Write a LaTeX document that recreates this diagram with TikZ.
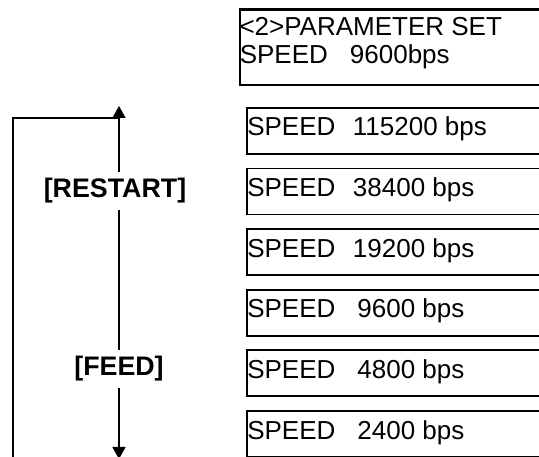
\documentclass[tikz,border=0pt]{standalone}
\usepackage{fontspec}
\setmainfont{Liberation Sans}
\usetikzlibrary{arrows.meta}
\tikzset{
  box/.style={draw, line width=1.9pt, rectangle, minimum width=320pt, minimum height=46pt, inner sep=0pt, anchor=north west},
  topbox/.style={draw, line width=1.9pt, rectangle, minimum width=320pt, minimum height=75pt, inner sep=0pt, anchor=north west},
  lbl/.style={inner sep=0pt, anchor=base west, font=\fontsize{26}{28}\selectfont},
  key/.style={inner sep=2pt, font=\fontsize{26.8}{28}\selectfont\bfseries},
  conn/.style={line width=1.7pt},
  arr/.style={line width=1.7pt, -{Triangle[width=13pt,length=12pt]}}
}
\newcommand{\gapB}{\hspace{17.5pt}}
\newcommand{\gapC}{\hspace{22pt}}
\begin{document}
\begin{tikzpicture}[x=1pt,y=-1pt]
\useasboundingbox (0,0) rectangle (539,457);
\begin{scope}
\clip (0,0) rectangle (539,457);
% top display
\node[topbox] (top) at (239.3,9.3) {};
\draw[line width=1.9pt] (top.north west) -- (top.north east);
\node[lbl] (t1) at ([xshift=0pt,yshift=-26pt]top.north west) {<2>PARAMETER SET};
\node[lbl] (t2) at ([xshift=0.3pt,yshift=-54.3pt]top.north west) {SPEED\gapC 9600bps};
% speed boxes
\node[box] (b1) at (245.7,107) {};
\node[box] (b2) at (245.7,167.6) {};
\node[box] (b3) at (245.7,228.2) {};
\node[box] (b4) at (245.7,288.8) {};
\node[box] (b5) at (245.7,349.4) {};
\node[box] (b6) at (245.7,410) {};
\node[lbl] at ([xshift=1.4pt,yshift=-29pt]b1.north west) {SPEED\gapB 115200 bps};
\node[lbl] at ([xshift=1.4pt,yshift=-29pt]b2.north west) {SPEED\gapB 38400 bps};
\node[lbl] at ([xshift=1.4pt,yshift=-29pt]b3.north west) {SPEED\gapB 19200 bps};
\node[lbl] at ([xshift=1.4pt,yshift=-29pt]b4.north west) {SPEED\gapC 9600 bps};
\node[lbl] at ([xshift=1.4pt,yshift=-29pt]b5.north west) {SPEED\gapC 4800 bps};
\node[lbl] at ([xshift=1.4pt,yshift=-29pt]b6.north west) {SPEED\gapC 2400 bps};
% keys and arrows
\node[key, minimum height=38pt] (restart) at (115,191) {[RESTART]};
\node[key, minimum height=38pt] (feed) at (119,369) {[FEED]};
\coordinate (uptip) at (119,106);
\coordinate (downtip) at (119,459);
\coordinate (loopbot) at (12.7,460);
\coordinate (loopjoin) at (119,118);
\draw[arr] (restart.north -| uptip) -- (uptip);
\draw[conn] (restart.south -| uptip) -- (feed.north);
\draw[arr] (feed.south) -- (downtip);
\draw[conn] (loopbot) |- (loopjoin);
\end{scope}
\end{tikzpicture}
\end{document}
